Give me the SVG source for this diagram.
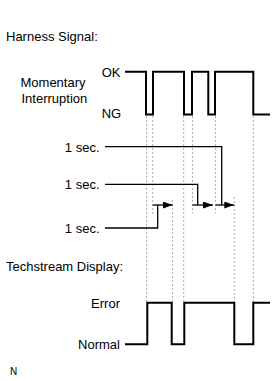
<svg xmlns="http://www.w3.org/2000/svg" width="279" height="381" viewBox="0 0 279 381">
<style>
text{font-family:"Liberation Sans",Arial,sans-serif;font-size:13px;fill:#000}
.sig{fill:none;stroke:#000;stroke-width:2;stroke-linejoin:miter}
.guide{fill:none;stroke:#9a9a9a;stroke-width:0.8;stroke-dasharray:2,2}
.conn{fill:none;stroke:#000;stroke-width:1.3}
</style>
<defs>
<marker id="ah" markerWidth="10" markerHeight="7" refX="10" refY="3.5" orient="auto" markerUnits="userSpaceOnUse">
<path d="M0,0 L10,3.5 L0,7 Z" fill="#000"/>
</marker>
</defs>
<rect width="279" height="381" fill="#fff"/>
<g id="titles">
<text x="6" y="41">Harness Signal:</text>
<text x="6" y="271">Techstream Display:</text>
<text x="10" y="375" style="font-size:10px">N</text>
</g>
<g id="guides">
<path class="guide" d="M146.5,116V302 M152.7,116V216 M172.5,200V302 M183.7,116V302 M192.5,116V213 M215.5,116V213 M234.3,197V302 M253.3,116V302"/>
</g>
<g id="harness-signal">
<text x="20.5" y="86.5">Momentary</text>
<text x="21.5" y="102.5">Interruption</text>
<text x="101.7" y="76.5">OK</text>
<text x="101.7" y="117.5">NG</text>
<path class="sig" d="M125,71.7 H146 V114.5 H153 V71.7 H184 V114.5 H192 V71.7 H208.3 V114.5 H215 V71.7 H253.3 V114.5 H270"/>
</g>
<g id="labels-1sec">
<text x="99.5" y="151.5" text-anchor="end">1 sec.</text>
<text x="99.5" y="189" text-anchor="end">1 sec.</text>
<text x="99.5" y="232.5" text-anchor="end">1 sec.</text>
</g>
<g id="connectors">
<path class="conn" d="M105,146.7 H221.7 V205"/>
<path class="conn" d="M105,184.3 H197.7 V205"/>
<path class="conn" d="M105,228 H157.7 V205"/>
<path class="conn" d="M152.7,205 H172.7" marker-end="url(#ah)"/>
<path class="conn" d="M192.5,205 H213" marker-end="url(#ah)"/>
<path class="conn" d="M215.5,205 H234.3" marker-end="url(#ah)"/>
</g>
<g id="techstream-display">
<text x="120" y="308" text-anchor="end">Error</text>
<text x="120" y="349" text-anchor="end">Normal</text>
<path class="sig" d="M125,344.3 H147.3 V302.7 H171.7 V344.3 H184.3 V302.7 H234.3 V344.3 H253.3 V302.7 H270"/>
</g>
</svg>
